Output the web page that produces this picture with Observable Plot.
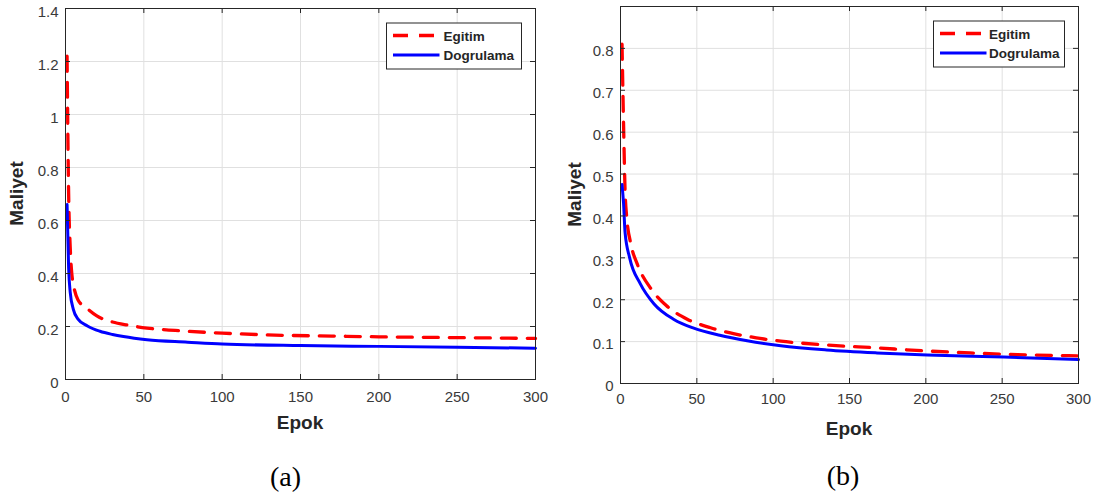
<!DOCTYPE html>
<html>
<head>
<meta charset="utf-8">
<script src="https://cdn.jsdelivr.net/npm/d3@7"></script>
<script src="https://cdn.jsdelivr.net/npm/@observablehq/plot@0.6"></script>
<style>
  html, body { margin: 0; padding: 0; background: #fff; }
  #wrap { position: relative; width: 1102px; height: 499px; overflow: hidden; background: #fff; }
  .panel { position: absolute; top: 0; }
  #overlay { position: absolute; left: 0; top: 0; pointer-events: none; }
</style>
</head>
<body>
<div id="wrap">
  <div id="panelA" class="panel" style="left:0px"></div>
  <div id="panelB" class="panel" style="left:560px"></div>
</div>
<script>
// ---------- data ----------
const seriesNames = ["Egitim", "Dogrulama"];
const xLabel = "Epok";
const yLabel = "Maliyet";
const captions = ["(a)", "(b)"];

const xTicks = [0, 50, 100, 150, 200, 250, 300];
const yTicksA = [0, 0.2, 0.4, 0.6, 0.8, 1, 1.2, 1.4];
const yTicksB = [0, 0.1, 0.2, 0.3, 0.4, 0.5, 0.6, 0.7, 0.8];

// Panel (a)
const epochsTrainA = [1, 2, 3, 4, 5, 8, 13, 20, 30, 40, 52, 70, 100, 145, 170, 200, 250, 300];
const trainA =       [1.22, 0.70, 0.50, 0.40, 0.36, 0.30, 0.272, 0.24, 0.217, 0.205, 0.194, 0.185, 0.175, 0.166, 0.164, 0.161, 0.158, 0.155];
const epochsValA =   [1, 2, 3, 5, 8, 14, 22, 30, 37, 52, 78, 100, 150, 200, 250, 300];
const valA =         [0.66, 0.42, 0.33, 0.265, 0.228, 0.202, 0.182, 0.17, 0.162, 0.150, 0.141, 0.134, 0.128, 0.125, 0.122, 0.118];

// Panel (b)
const epochsTrainB = [1, 2, 3, 4, 7, 11, 20, 30, 44, 59, 74, 89, 105, 135, 168, 199, 229, 260, 300];
const trainB =       [0.81, 0.62, 0.46, 0.40, 0.33, 0.285, 0.226, 0.186, 0.153, 0.133, 0.119, 0.109, 0.101, 0.092, 0.085, 0.078, 0.073, 0.069, 0.066];
const epochsValB =   [1, 2, 3, 6, 13, 22, 35, 48, 65, 83, 105, 135, 168, 201, 251, 300];
const valB =         [0.475, 0.43, 0.36, 0.30, 0.238, 0.19, 0.153, 0.132, 0.115, 0.102, 0.090, 0.080, 0.073, 0.068, 0.063, 0.057];

// ---------- styling ----------
const RED = "#ff0000", BLUE = "#0000ff", AXIS = "#262626", GRID = "#e0e0e0";
const SANS = "'Liberation Sans', Arial, Helvetica, sans-serif";
const SERIF = "'Liberation Serif', 'Times New Roman', serif";
const fmt = d => String(Math.round(d * 10) / 10);

function makePanel(cfg) {
  const innerW = cfg.width - cfg.marginLeft - cfg.marginRight;
  const innerH = cfg.height - cfg.marginTop - cfg.marginBottom;
  const tick = 5;
  return Plot.plot({
    width: cfg.width,
    height: cfg.height,
    marginLeft: cfg.marginLeft,
    marginRight: cfg.marginRight,
    marginTop: cfg.marginTop,
    marginBottom: cfg.marginBottom,
    style: { fontFamily: SANS, fontSize: "15px", color: "#3a3a3a", background: "#fff", overflow: "visible" },
    x: { domain: [0, 300], ticks: xTicks },
    y: { domain: cfg.yDomain, ticks: cfg.yTicks },
    marks: [
      Plot.gridX(xTicks, { stroke: GRID, strokeOpacity: 1, strokeWidth: 1 }),
      Plot.gridY(cfg.yTicks, { stroke: GRID, strokeOpacity: 1, strokeWidth: 1 }),
      Plot.line(cfg.trainY, { x: cfg.trainX, y: cfg.trainY, stroke: RED, strokeWidth: 3.3, strokeDasharray: "15,11", curve: "monotone-x" }),
      Plot.line(cfg.valY, { x: cfg.valX, y: cfg.valY, stroke: BLUE, strokeWidth: 3, curve: "monotone-x" }),
      // inward tick marks on all four sides
      Plot.ruleX(xTicks, { x: d => d, insetTop: innerH - tick, stroke: AXIS }),
      Plot.ruleX(xTicks, { x: d => d, insetBottom: innerH - tick, stroke: AXIS }),
      Plot.ruleY(cfg.yTicks, { y: d => d, insetRight: innerW - tick, stroke: AXIS }),
      Plot.ruleY(cfg.yTicks, { y: d => d, insetLeft: innerW - tick, stroke: AXIS }),
      Plot.axisX(xTicks, { anchor: "bottom", tickSize: 0, tickPadding: cfg.xPad, tickFormat: fmt, label: null }),
      Plot.axisY(cfg.yTicks, { anchor: "left", tickSize: 0, tickPadding: 7, tickFormat: fmt, label: null, dy: cfg.yDy }),
      Plot.frame({ stroke: AXIS, strokeWidth: 1 })
    ]
  });
}

const panelA = {
  width: 560, height: 440, marginLeft: 65, marginRight: 25, marginTop: 8, marginBottom: 61,
  yDomain: [0, 1.4], yTicks: yTicksA, xPad: 12, yDy: 4,
  trainX: epochsTrainA, trainY: trainA, valX: epochsValA, valY: valA
};
const panelB = {
  width: 542, height: 440, marginLeft: 60, marginRight: 24, marginTop: 6, marginBottom: 57,
  yDomain: [0, 0.9], yTicks: yTicksB, xPad: 10, yDy: 3,
  trainX: epochsTrainB, trainY: trainB, valX: epochsValB, valY: valB
};

document.getElementById("panelA").appendChild(makePanel(panelA));
document.getElementById("panelB").appendChild(makePanel(panelB));

// ---------- overlay: axis titles, legends, captions ----------
const svg = d3.select("#wrap").append("svg")
  .attr("id", "overlay").attr("width", 1102).attr("height", 499);

const layouts = [
  { offset: 0, p: panelA, ylabX: 17, epokBase: 429, capX: 285.5, capBase: 486, legW: 135, legTextDx: 50.5 },
  { offset: 560, p: panelB, ylabX: 575, epokBase: 434.5, capX: 843, capBase: 485, legW: 131, legTextDx: 49 }
];

layouts.forEach((L, i) => {
  const left = L.offset + L.p.marginLeft;
  const right = L.offset + L.p.width - L.p.marginRight;
  const top = L.p.marginTop;
  const bottom = L.p.height - L.p.marginBottom;
  const cx = (left + right) / 2;
  const cy = (top + bottom) / 2;

  svg.append("text").text(xLabel)
    .attr("x", cx).attr("y", L.epokBase)
    .attr("text-anchor", "middle")
    .style("font-family", SANS).style("font-weight", "bold").style("font-size", "19px").style("fill", AXIS);

  svg.append("text").text(yLabel)
    .attr("transform", `translate(${L.ylabX + 6},${cy}) rotate(-90)`)
    .attr("text-anchor", "middle")
    .style("font-family", SANS).style("font-weight", "bold").style("font-size", "19px").style("fill", AXIS);

  svg.append("text").text(captions[i])
    .attr("x", L.capX).attr("y", L.capBase)
    .attr("text-anchor", "middle")
    .style("font-family", SERIF).style("font-size", "28px").style("fill", "#000");

  // legend box
  const lx = right - 14 - L.legW, ly = top + 14.5, lh = 46;
  const g = svg.append("g");
  g.append("rect").attr("x", lx + 0.5).attr("y", ly + 0.5).attr("width", L.legW).attr("height", lh)
    .attr("fill", "#fff").attr("stroke", AXIS).attr("stroke-width", 1);
  const rows = [
    { name: seriesNames[0], color: RED, dash: "15,11", w: 3.3, y: ly + 13 },
    { name: seriesNames[1], color: BLUE, dash: null, w: 3, y: ly + 32.5 }
  ];
  rows.forEach(r => {
    g.append("line").attr("x1", lx + 7).attr("x2", lx + (r.dash ? 48 : 53.5))
      .attr("y1", r.y).attr("y2", r.y)
      .attr("stroke", r.color).attr("stroke-width", r.w)
      .attr("stroke-dasharray", r.dash);
    g.append("text").text(r.name)
      .attr("x", lx + 7 + L.legTextDx).attr("y", r.y + 5)
      .style("font-family", SANS).style("font-weight", "bold").style("font-size", "13.5px").style("fill", AXIS);
  });
});
</script>
</body>
</html>
